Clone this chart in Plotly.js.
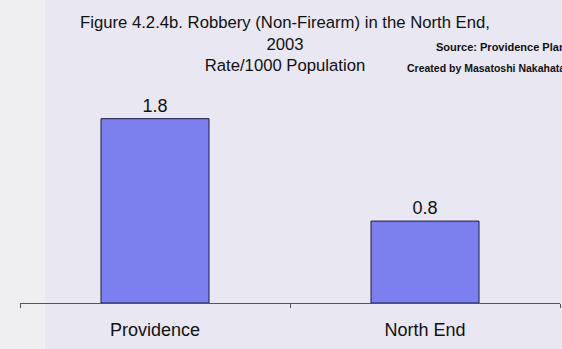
<!DOCTYPE html>
<html><head><meta charset="utf-8">
<script src="https://cdn.plot.ly/plotly-3.0.1.min.js"></script>
<style>html,body{margin:0;padding:0;}#chart{width:562px;height:349px;}</style>
</head><body><div id="chart"></div>
<script>
const categories = ["Providence", "North End"];
const rates = [1.8, 0.8];
const valueLabels = ["1.8", "0.8"];

const font = "Liberation Sans, Arial, sans-serif";
const trace = {
  type: "bar", x: categories, y: rates,
  text: valueLabels, textposition: "outside", cliponaxis: false,
  textfont: {family: font, size: 18, color: "#111"},
  marker: {color: "#7b80ee", line: {color: "#1a1a40", width: 1}},
  width: 0.4, hoverinfo: "none"
};
const W = 540;
const layout = {
  width: 562, height: 349,
  margin: {l: 20, r: 2, t: 47, b: 46},
  paper_bgcolor: "#e9e7f1", plot_bgcolor: "rgba(0,0,0,0)",
  showlegend: false,
  xaxis: {type: "category", showline: true, linecolor: "#555", linewidth: 1,
    ticks: "outside", tickson: "boundaries", ticklen: 4, tickcolor: "#555",
    ticklabelstandoff: 10,
    tickfont: {family: font, size: 18, color: "#111"}, showgrid: false, zeroline: false,
    range: [-0.5, 1.5]},
  yaxis: {range: [0, 2.5], visible: false, showgrid: false, zeroline: false},
  shapes: [
    {type: "rect", xref: "paper", yref: "paper", x0: -20/W, x1: 25/W, y0: -46/256, y1: 1 + 47/256,
     fillcolor: "#efeff1", line: {width: 0}, layer: "below"}
  ],
  annotations: [
    {xref: "paper", yref: "paper", x: 265/W, y: 1 + 3/256, xanchor: "center", yanchor: "middle",
     text: "Figure 4.2.4b. Robbery (Non-Firearm) in the North End,<br>2003<br>Rate/1000 Population",
     showarrow: false, font: {family: font, size: 16.7, color: "#111"}, align: "center"},
    {xref: "paper", yref: "paper", x: 414/W, y: 1, xanchor: "left", yanchor: "middle",
     text: "<b>Source: Providence Plan</b>", showarrow: false, font: {family: font, size: 11, color: "#111"}},
    {xref: "paper", yref: "paper", x: 385/W, y: 1 - 21/256, xanchor: "left", yanchor: "middle",
     text: "<b>Created by Masatoshi Nakahata</b>", showarrow: false, font: {family: font, size: 10.5, color: "#111"}}
  ]
};
Plotly.newPlot("chart", [trace], layout, {staticPlot: true});
</script></body></html>
